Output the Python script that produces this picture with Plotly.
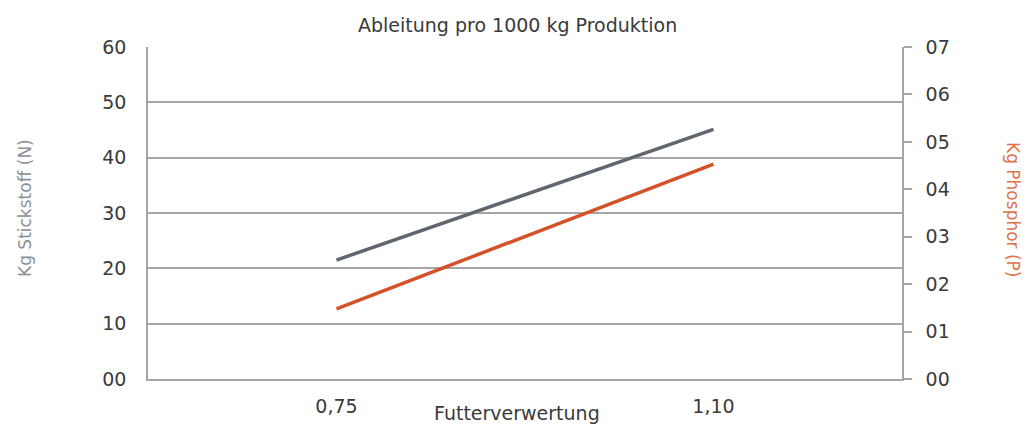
import plotly.graph_objects as go

categories = ["0,75", "1,10"]
stickstoff = [21.5, 45.1]
phosphor = [1.48, 4.53]
left_ticks = [0, 10, 20, 30, 40, 50, 60]
left_ticktext = ["00", "10", "20", "30", "40", "50", "60"]
right_ticks = [0, 1, 2, 3, 4, 5, 6, 7]
right_ticktext = ["00", "01", "02", "03", "04", "05", "06", "07"]

FONT = "DejaVu Sans"
GRAY_LINE = "#5f6670"
ORANGE = "#d4522a"
GRID = "#a6a6a6"
TXT = "#3a3a3a"

W, H = 1026, 425
l, r, t, b = 148, 124, 47, 46
pw, ph = W - l - r, H - t - b


def px(xp):
    return (xp - l) / pw


def py(yp):
    return (H - b - yp) / ph


fig = go.Figure()
fig.add_trace(go.Scatter(x=categories, y=stickstoff, mode="lines",
                         line=dict(color=GRAY_LINE, width=3.5), name="N", yaxis="y"))
fig.add_trace(go.Scatter(x=categories, y=phosphor, mode="lines",
                         line=dict(color=ORANGE, width=3.5), name="P", yaxis="y2"))

fig.update_layout(
    width=W, height=H,
    margin=dict(l=l, r=r, t=t, b=b, autoexpand=False),
    paper_bgcolor="white", plot_bgcolor="white",
    showlegend=False,
    font=dict(family=FONT, size=19, color=TXT),
    xaxis=dict(type="category", range=[-0.5, 1.5], showgrid=False,
               showline=True, linecolor=GRID, linewidth=1.5,
               ticks="", ticklabelstandoff=9, automargin=False,
               tickfont=dict(size=19, color=TXT)),
    yaxis=dict(range=[0, 60], tickvals=left_ticks, ticktext=left_ticktext,
               showgrid=True, gridcolor=GRID, gridwidth=1.5,
               showline=True, linecolor=GRID, linewidth=1.5,
               zeroline=False, ticks="", ticklabelstandoff=16, automargin=False,
               tickfont=dict(size=19, color=TXT)),
    yaxis2=dict(range=[0, 7], tickvals=right_ticks, ticktext=right_ticktext,
                overlaying="y", side="right", showgrid=False,
                showline=True, linecolor=GRID, linewidth=1.5,
                zeroline=False, ticks="outside", ticklen=8, tickcolor=GRID,
                tickwidth=1.5, ticklabelstandoff=10, automargin=False,
                tickfont=dict(size=19, color=TXT)),
    annotations=[
        dict(text="Ableitung pro 1000 kg Produktion", x=px(517), y=py(25),
             xref="paper", yref="paper", xanchor="center", yanchor="middle",
             showarrow=False, font=dict(size=19, color=TXT)),
        dict(text="Futterverwertung", x=px(517), y=py(413),
             xref="paper", yref="paper", xanchor="center", yanchor="middle",
             showarrow=False, font=dict(size=19, color=TXT)),
        dict(text="Kg Stickstoff (N)", textangle=-90, x=px(25), y=py(208),
             xref="paper", yref="paper", xanchor="center", yanchor="middle",
             showarrow=False, font=dict(size=17, color="#8a9099")),
        dict(text="Kg Phosphor (P)", textangle=90, x=px(1013), y=py(210),
             xref="paper", yref="paper", xanchor="center", yanchor="middle",
             showarrow=False, font=dict(size=17, color="#e0714a")),
    ],
)

fig.write_html(
    "out.html",
    config={"displayModeBar": False},
    post_script="document.body.style.margin='0';document.body.style.padding='0';",
)
